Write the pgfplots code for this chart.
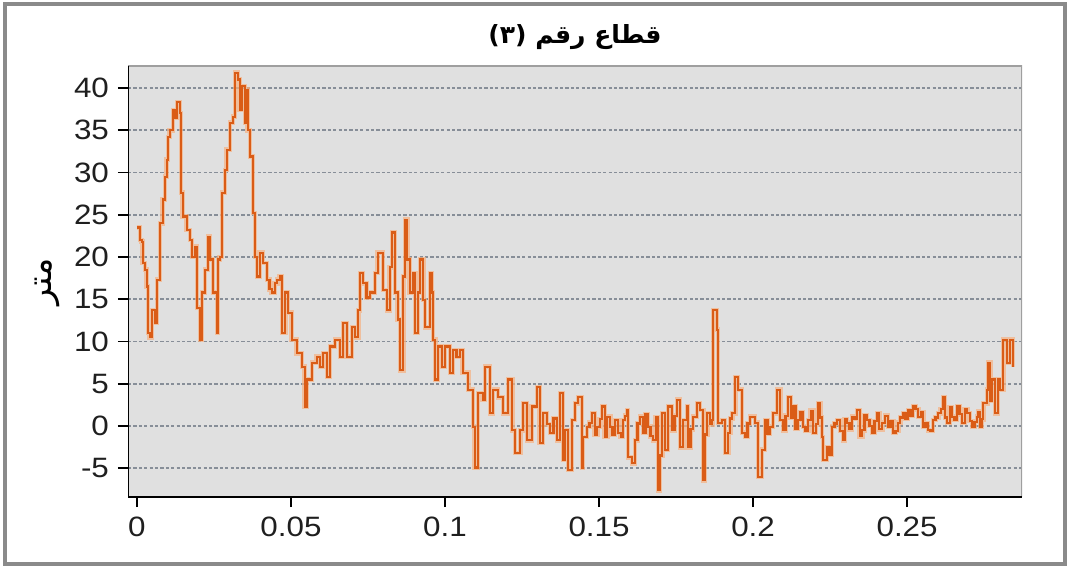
\documentclass[border=0pt]{standalone}
\usepackage{pgfplots}
\pgfplotsset{compat=1.18}
\usepackage{pgfplotstable}
\usepackage{fontspec}
\setmainfont{Liberation Sans}
\newfontfamily\tickfont[FakeStretch=1.12]{Liberation Sans}
\newfontfamily\arabicfont[Script=Arabic]{DejaVu Sans}
\TeXXeTstate=1

\definecolor{profile}{RGB}{218,92,22}
\definecolor{halo}{RGB}{246,178,130}
\definecolor{plotbg}{RGB}{224,224,224}
\definecolor{gridc}{RGB}{135,142,152}
\definecolor{framec}{RGB}{138,138,138}

% distance (m) vs. elevation (m)
\pgfplotstableread{
x y
0.0000 23.5
0.0010 22.0
0.0016 21.8
0.0019 19.3
0.0026 18.5
0.0032 16.5
0.0036 11.0
0.0042 10.5
0.0049 13.7
0.0058 12.2
0.0065 17.3
0.0075 24.0
0.0084 26.8
0.0091 29.5
0.0097 31.5
0.0101 34.2
0.0107 35.0
0.0117 37.4
0.0123 36.5
0.0130 38.3
0.0140 37.0
0.0143 27.6
0.0149 24.8
0.0162 23.2
0.0172 22.0
0.0179 20.0
0.0188 21.2
0.0195 14.0
0.0205 10.2
0.0211 15.8
0.0221 18.5
0.0231 22.4
0.0237 19.7
0.0247 15.8
0.0260 11.0
0.0263 19.7
0.0269 20.0
0.0276 27.6
0.0286 30.3
0.0292 32.7
0.0302 35.9
0.0312 36.6
0.0318 41.8
0.0328 41.0
0.0334 37.4
0.0341 40.2
0.0351 35.9
0.0357 39.8
0.0360 35.0
0.0367 31.9
0.0377 25.2
0.0383 20.0
0.0390 17.7
0.0399 20.5
0.0409 19.3
0.0422 17.3
0.0430 16.2
0.0438 15.8
0.0447 16.9
0.0455 17.3
0.0464 17.7
0.0471 11.0
0.0481 15.8
0.0490 13.4
0.0503 10.2
0.0519 8.6
0.0536 7.0
0.0545 2.3
0.0552 5.5
0.0568 7.5
0.0584 8.2
0.0594 7.0
0.0604 8.6
0.0617 5.8
0.0627 9.4
0.0643 10.2
0.0659 8.2
0.0669 12.2
0.0682 8.2
0.0698 11.7
0.0708 10.5
0.0718 13.7
0.0724 18.1
0.0734 16.9
0.0745 15.2
0.0756 15.8
0.0773 18.1
0.0782 20.5
0.0799 16.1
0.0812 13.7
0.0821 18.8
0.0828 22.9
0.0838 15.8
0.0847 12.6
0.0854 6.6
0.0864 17.7
0.0870 24.4
0.0877 19.7
0.0886 15.8
0.0896 18.1
0.0903 11.0
0.0912 15.8
0.0919 19.7
0.0929 14.9
0.0935 11.7
0.0951 18.1
0.0958 15.8
0.0961 10.2
0.0968 5.5
0.0977 9.4
0.0990 7.0
0.1000 9.4
0.1016 6.3
0.1026 9.0
0.1037 8.2
0.1049 9.0
0.1058 6.3
0.1075 4.3
0.1091 -0.1
0.1097 -4.9
0.1107 3.9
0.1123 3.1
0.1130 7.0
0.1146 1.5
0.1156 4.3
0.1172 3.4
0.1188 1.5
0.1205 5.5
0.1218 -0.5
0.1227 -3.2
0.1244 -0.5
0.1253 2.7
0.1266 -1.7
0.1282 2.3
0.1299 4.6
0.1308 -2.0
0.1318 1.5
0.1330 0.2
0.1341 -0.8
0.1352 0.9
0.1364 -1.7
0.1373 3.9
0.1383 -4.0
0.1390 -0.5
0.1399 -5.2
0.1412 0.7
0.1422 2.7
0.1432 3.4
0.1445 -4.9
0.1448 -1.3
0.1461 -0.1
0.1469 0.4
0.1477 1.5
0.1486 -1.0
0.1494 -0.1
0.1502 0.8
0.1510 2.3
0.1519 -1.3
0.1527 1.1
0.1536 -0.1
0.1544 -1.0
0.1552 0.7
0.1562 -0.8
0.1570 -1.3
0.1578 0.7
0.1584 1.2
0.1591 1.9
0.1594 -3.7
0.1607 -4.4
0.1617 -1.7
0.1625 0.3
0.1633 1.1
0.1643 -0.8
0.1651 1.4
0.1659 -0.1
0.1667 -1.2
0.1675 -1.7
0.1684 1.0
0.1692 -7.6
0.1698 -3.5
0.1705 1.5
0.1714 -2.8
0.1724 2.3
0.1737 -0.5
0.1745 1.2
0.1753 3.1
0.1763 -2.5
0.1773 0.7
0.1786 2.3
0.1789 -2.5
0.1797 -0.4
0.1805 1.1
0.1818 2.7
0.1828 1.9
0.1838 -6.4
0.1844 -1.0
0.1851 1.5
0.1860 0.2
0.1867 0.7
0.1870 13.7
0.1883 11.4
0.1886 0.4
0.1899 0.7
0.1909 -3.2
0.1919 -0.8
0.1926 0.9
0.1932 1.5
0.1942 5.8
0.1951 4.3
0.1964 -0.8
0.1974 -1.3
0.1982 0.3
0.1990 1.1
0.2006 0.4
0.2016 -6.0
0.2029 -2.8
0.2039 0.7
0.2047 -0.9
0.2055 -0.1
0.2065 1.5
0.2078 4.3
0.2088 0.7
0.2097 -0.5
0.2105 1.2
0.2114 3.4
0.2122 1.0
0.2130 2.3
0.2138 -0.3
0.2146 0.7
0.2154 1.6
0.2162 -0.1
0.2170 -0.6
0.2179 0.7
0.2187 1.8
0.2195 -0.8
0.2203 0.2
0.2211 2.7
0.2218 1.0
0.2224 -1.3
0.2227 -4.0
0.2240 -2.5
0.2248 -3.4
0.2256 -0.1
0.2264 0.3
0.2273 0.7
0.2282 -0.6
0.2292 -1.7
0.2298 0.8
0.2305 0.4
0.2313 -0.4
0.2321 1.1
0.2329 0.9
0.2338 1.9
0.2346 -1.2
0.2354 -0.5
0.2362 1.3
0.2370 0.7
0.2378 0.0
0.2386 -0.8
0.2394 0.6
0.2403 1.5
0.2410 -0.4
0.2419 0.4
0.2428 1.2
0.2438 -0.1
0.2446 0.6
0.2455 -0.8
0.2462 -0.6
0.2471 0.4
0.2478 1.0
0.2487 1.5
0.2495 0.9
0.2503 1.9
0.2511 1.2
0.2519 2.3
0.2527 2.0
0.2536 1.1
0.2544 1.6
0.2552 -0.1
0.2560 0.3
0.2568 -0.5
0.2576 -0.6
0.2584 0.7
0.2592 1.0
0.2601 1.5
0.2609 2.0
0.2617 3.4
0.2623 1.0
0.2630 0.4
0.2638 2.2
0.2646 1.1
0.2654 0.7
0.2662 2.3
0.2670 1.4
0.2679 0.4
0.2687 2.0
0.2695 1.5
0.2703 0.6
0.2711 -0.1
0.2719 0.5
0.2727 1.1
0.2732 1.7
0.2737 -0.1
0.2742 0.8
0.2747 2.7
0.2760 4.3
0.2763 7.5
0.2770 3.0
0.2776 5.5
0.2786 1.5
0.2795 5.5
0.2802 4.3
0.2812 10.2
0.2825 7.5
0.2834 10.2
0.2844 7.0
}\profile

\begin{document}
\begin{tikzpicture}
\useasboundingbox (-64pt,-35pt) rectangle (470pt,248.5pt);
\draw[framec, line width=2pt] (-61.5pt,-33.25pt) rectangle (468.25pt,246.5pt);
\begin{axis}[
  at={(0pt,0pt)}, anchor=south west,
  scale only axis,
  width=447pt, height=215.5pt,
  xmin=-0.0029, xmax=0.2873,
  ymin=-8.4, ymax=42.6,
  xtick={0,0.05,0.1,0.15,0.2,0.25},
  xticklabels={0,0.05,0.1,0.15,0.2,0.25},
  ytick={-5,0,5,10,15,20,25,30,35,40},
  yticklabels={-5,0,5,10,15,20,25,30,35,40},
  tick align=outside,
  xtick pos=bottom, ytick pos=left,
  major tick length=5pt,
  tick style={black, line width=0.9pt},
  ticklabel style={font=\tickfont\fontsize{14}{16}\selectfont, text=black!88},
  xticklabel style={yshift=-1.5pt},
  yticklabel style={xshift=-1pt},
  axis line style={draw=none},
  axis background/.style={fill=plotbg},
  ymajorgrids,
  major grid style={gridc, line width=0.8pt, dash pattern=on 1.6pt off 1.1pt},
  title={\arabicfont\bfseries\fontsize{12.5}{14}\selectfont\beginR قطاع رقم \beginL(٣)\endL\endR},
  title style={at={(0.5,1)}, anchor=center, yshift=8.5pt},
  ylabel={\arabicfont\fontsize{17}{19}\selectfont\beginR متر\endR},
  ylabel style={at={(axis description cs:-0.0906,0.5)}, anchor=center},
  clip=true,
]
\addplot[const plot, halo, line width=2.4pt, opacity=0.7] table[x=x, y=y] {\profile};
\addplot[const plot, profile, line width=1.1pt] table[x=x, y=y] {\profile};
\draw[gray!75, line width=0.8pt] (rel axis cs:0,1) -- (rel axis cs:1,1) -- (rel axis cs:1,0);
\draw[black, line width=1.3pt] (rel axis cs:0,1) -- (rel axis cs:0,0) -- (rel axis cs:1,0);
\end{axis}
\end{tikzpicture}
\end{document}
